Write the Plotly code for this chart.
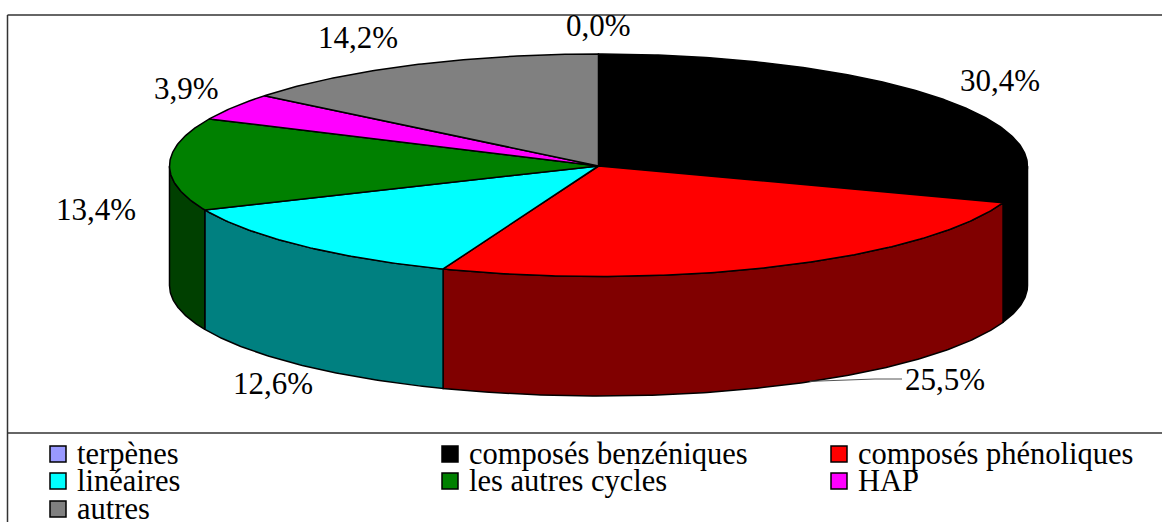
import numpy as np
import plotly.graph_objects as go

categories = ["terpènes", "composés benzéniques", "composés phénoliques",
              "linéaires", "les autres cycles", "HAP", "autres"]
values = [0.0, 30.4, 25.5, 12.6, 13.4, 3.9, 14.2]
value_labels = ["0,0%", "30,4%", "25,5%", "12,6%", "13,4%", "3,9%", "14,2%"]
top_colors = ["#9999FF", "#000000", "#FF0000", "#00FFFF", "#008000", "#FF00FF", "#808080"]
side_colors = ["#4C4C80", "#000000", "#800000", "#008080", "#004000", "#800080", "#404040"]

W, H = 1162, 522
CX, CY, RX, RY_BACK, RY_FRONT, DEPTH = 598.5, 166, 429, 112, 110.5, 119.5
FONT = "Liberation Serif, Times New Roman, serif"
LABEL_SIZE = 31
LEGEND_SIZE = 30.5
label_centers = [(598, 25), (1000, 80), (945, 379), (273, 383), (96, 209), (186, 88), (358, 37)]
legend_cols = [49, 441, 830]
legend_rows = [454, 481, 509]


def pt(deg, drop=0.0):
    a = np.radians(deg)
    c = np.cos(a)
    return CX + RX * np.sin(a), CY - np.where(c > 0, RY_BACK, RY_FRONT) * c + drop


def arc(a0, a1, drop=0.0):
    n = max(2, int(abs(a1 - a0) * 2) + 2)
    return pt(np.linspace(a0, a1, n), drop)


fig = go.Figure()
cum = np.cumsum([0.0] + values)
total = cum[-1]
angles = cum / total * 360.0

# side walls, only the part of the rim facing the viewer (90..270 degrees)
for i in range(len(values)):
    a0, a1 = max(angles[i], 90.0), min(angles[i + 1], 270.0)
    if a1 <= a0:
        continue
    xt, yt = arc(a0, a1)
    xb, yb = arc(a1, a0, DEPTH)
    fig.add_trace(go.Scatter(
        x=np.r_[xt, xb, xt[0]], y=np.r_[yt, yb, yt[0]], mode="lines", fill="toself",
        fillcolor=side_colors[i], line=dict(color="#000000", width=1.5),
        hoverinfo="skip", showlegend=False))

# top faces
for i in range(len(values)):
    if values[i] <= 0:
        continue
    xa, ya = arc(angles[i], angles[i + 1])
    fig.add_trace(go.Scatter(
        x=np.r_[CX, xa, CX], y=np.r_[CY, ya, CY], mode="lines", fill="toself",
        fillcolor=top_colors[i], line=dict(color="#000000", width=1.5),
        name=categories[i], showlegend=False))

# leader line of the largest front slice
mid = (angles[2] + angles[3]) / 2
lx, ly = pt(mid - 3.0, DEPTH)
fig.add_trace(go.Scatter(
    x=[lx + 12, 875, 902], y=[ly - 2, 379, 379], mode="lines",
    line=dict(color="#555555", width=1), hoverinfo="skip", showlegend=False))

# value labels
for txt, (x, y) in zip(value_labels, label_centers):
    fig.add_annotation(x=x, y=y, text=txt, showarrow=False, xanchor="center", yanchor="middle",
                       font=dict(family=FONT, size=LABEL_SIZE, color="#000000"))

# legend (three columns, tightly packed like the original)
for i, name in enumerate(categories):
    x = legend_cols[i % 3]
    y = legend_rows[i // 3]
    fig.add_trace(go.Scatter(
        x=[x + 9], y=[y], mode="markers",
        marker=dict(symbol="square", size=16, color=top_colors[i], line=dict(color="#000000", width=1.5)),
        hoverinfo="skip", showlegend=False))
    fig.add_annotation(x=x + 26, y=y, text=name, showarrow=False, xanchor="left", yanchor="middle",
                       font=dict(family=FONT, size=LEGEND_SIZE, color="#000000"))

frame = dict(type="line", xref="x", yref="y", line=dict(color="#333333", width=1.5))
fig.update_layout(
    width=W, height=H, margin=dict(l=0, r=0, t=0, b=0),
    paper_bgcolor="#FFFFFF", plot_bgcolor="#FFFFFF", showlegend=False,
    xaxis=dict(range=[0, W], visible=False, fixedrange=True),
    yaxis=dict(range=[H, 0], visible=False, fixedrange=True),
    shapes=[
        {**frame, "x0": 7.5, "x1": 7.5, "y0": 15, "y1": H},
        {**frame, "x0": 7.5, "x1": W, "y0": 15, "y1": 15},
        {**frame, "x0": 7.5, "x1": W, "y0": 433, "y1": 433},
    ],
)
fig.write_html("out.html", config={"displayModeBar": False},
               post_script="document.body.style.margin='0';document.body.style.overflow='hidden';")
